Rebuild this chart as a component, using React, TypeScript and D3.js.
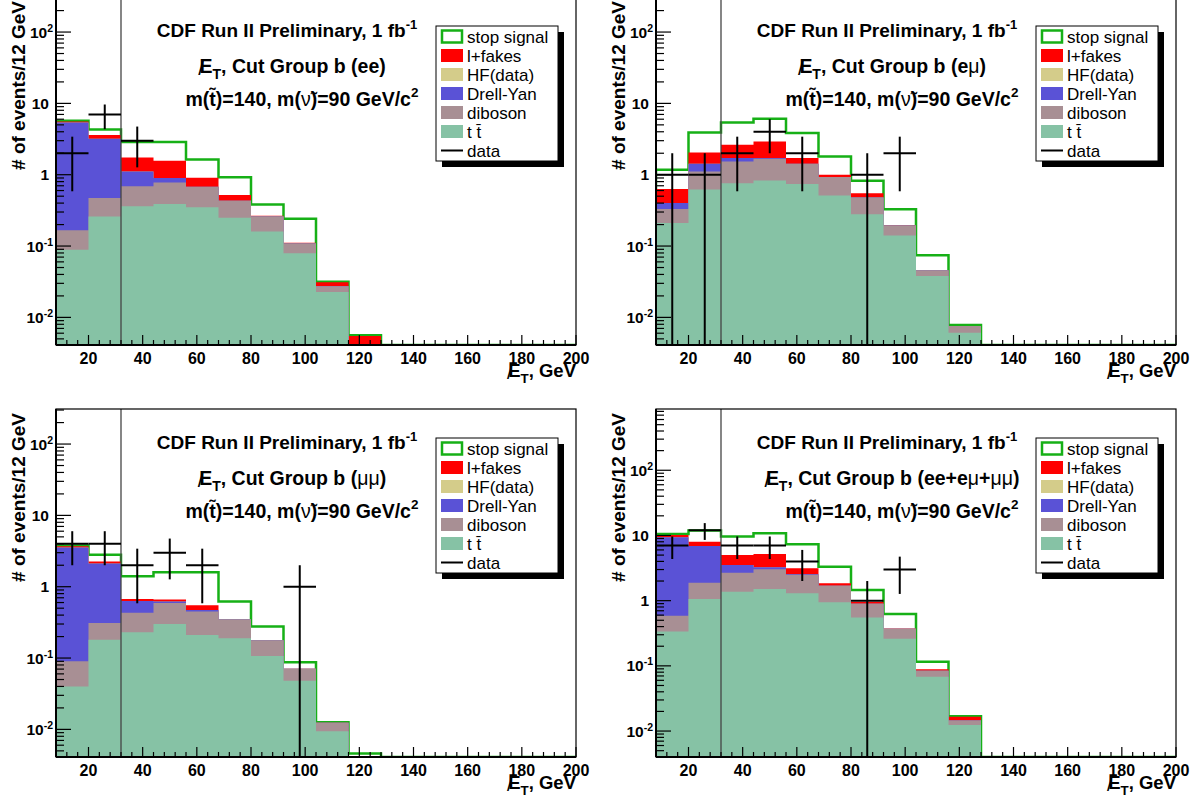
import React from "react";
import * as d3 from "d3";

const W = 1201;
const H = 803;

// histogram binning (GeV) and axis labels
const binEdges = [8, 20, 32, 44, 56, 68, 80, 92, 104, 116, 128, 140, 152, 164, 176, 188, 200];
const xTickLabels = [20, 40, 60, 80, 100, 120, 140, 160, 180, 200];
const cutValue = 32;
const legendLabels = ["stop signal", "l+fakes", "HF(data)", "Drell-Yan", "diboson", "t t\u0304", "data"];
const channelNames = ["ee", "e\u03bc", "\u03bc\u03bc", "ee+e\u03bc+\u03bc\u03bc"];

// ee
const eeTtbar = [0.089, 0.26, 0.36, 0.39, 0.35, 0.25, 0.16, 0.079, 0.0226, 0, 0, 0, 0, 0, 0, 0];
const eeDiboson = [0.077, 0.21, 0.33, 0.39, 0.32, 0.18, 0.1, 0.03, 0.0048, 0, 0, 0, 0, 0, 0, 0];
const eeDrellYan = [5.22, 2.72, 0.42, 0.12, 0.01, 0, 0, 0, 0, 0, 0, 0, 0, 0, 0, 0];
const eeHF = [0, 0, 0, 0, 0, 0, 0, 0, 0, 0, 0, 0, 0, 0, 0, 0];
const eeFakes = [0.2, 0.4, 0.64, 0.67, 0.23, 0.09, 0.006, 0.002, 0.0038, 0.0055, 0, 0, 0, 0, 0, 0];
const eeStop = [0.1, 0.7, 1.12, 1.3, 0.72, 0.4, 0.115, 0.13, 0.0003, 0.0001, 0, 0, 0, 0, 0, 0];
const eeData = [2, 7, 3, 0, 0, 0, 0, 0, 0, 0, 0, 0, 0, 0, 0, 0];

// e mu
const emTtbar = [0.21, 0.62, 0.76, 0.83, 0.74, 0.51, 0.28, 0.14, 0.038, 0.0061, 0, 0, 0, 0, 0, 0];
const emDiboson = [0.12, 0.49, 0.77, 0.84, 0.67, 0.42, 0.2, 0.054, 0.0076, 0.0015, 0, 0, 0, 0, 0, 0];
const emDrellYan = [0.07, 0.32, 0.18, 0.05, 0.02, 0, 0, 0, 0, 0, 0, 0, 0, 0, 0, 0];
const emHF = [0, 0, 0, 0, 0, 0, 0, 0, 0, 0, 0, 0, 0, 0, 0, 0];
const emFakes = [0.23, 0.62, 0.92, 1.2, 0.28, 0.07, 0.07, 0.003, 0, 0, 0, 0, 0, 0, 0, 0];
const emStop = [0.54, 1.85, 2.76, 3.15, 2.12, 0.8, 0.27, 0.13, 0.029, 0.0002, 0, 0, 0, 0, 0, 0];
const emData = [1, 1, 2, 4, 2, 0, 1, 2, 0, 0, 0, 0, 0, 0, 0, 0];

// mu mu
const mmTtbar = [0.04, 0.18, 0.23, 0.3, 0.21, 0.19, 0.107, 0.048, 0.0094, 0, 0, 0, 0, 0, 0, 0];
const mmDiboson = [0.05, 0.13, 0.2, 0.29, 0.24, 0.16, 0.07, 0.023, 0.003, 0, 0, 0, 0, 0, 0, 0];
const mmDrellYan = [3.45, 1.8, 0.2, 0.03, 0.02, 0, 0, 0, 0, 0, 0, 0, 0, 0, 0, 0];
const mmHF = [0, 0, 0, 0, 0, 0, 0, 0, 0, 0, 0, 0, 0, 0, 0, 0];
const mmFakes = [0.15, 0.15, 0.04, 0.04, 0.08, 0, 0, 0, 0, 0, 0, 0, 0, 0, 0, 0];
const mmStop = [0.1, 0.54, 0.73, 0.94, 1.05, 0.27, 0.1, 0.016, 0.0002, 0.0046, 0, 0, 0, 0, 0, 0];
const mmData = [4, 4, 2, 3, 2, 0, 0, 1, 0, 0, 0, 0, 0, 0, 0, 0];

// all channels
const allTtbar = [0.335, 1.06, 1.37, 1.51, 1.3, 0.945, 0.55, 0.26, 0.068, 0.0124, 0, 0, 0, 0, 0, 0];
const allDiboson = [0.25, 0.83, 1.32, 1.52, 1.18, 0.75, 0.35, 0.11, 0.016, 0.0021, 0, 0, 0, 0, 0, 0];
const allDrellYan = [8.8, 5.0, 0.84, 0.22, 0.05, 0, 0, 0, 0, 0, 0, 0, 0, 0, 0, 0];
const allHF = [0, 0, 0, 0, 0, 0, 0, 0, 0, 0, 0, 0, 0, 0, 0, 0];
const allFakes = [0.8, 1.13, 1.49, 1.95, 0.61, 0.15, 0.06, 0.005, 0.0045, 0.0021, 0, 0, 0, 0, 0, 0];
const allStop = [0.3, 3.9, 4.6, 5.6, 4.2, 1.47, 0.5, 0.25, 0.027, 0.0003, 0, 0, 0, 0, 0, 0];
const allData = [7, 12, 7, 7, 4, 0, 1, 3, 0, 0, 0, 0, 0, 0, 0, 0];

// stack colours, bottom -> top
const colTtbar = "#86c2a5";
const colDiboson = "#a88f94";
const colDrellYan = "#5a52d6";
const colHF = "#d4cc8a";
const colFakes = "#ff0000";
const colStop = "#16b016";
const legendColors = [colStop, colFakes, colHF, colDrellYan, colDiboson, colTtbar, "#000"];

const FONT = "'Liberation Sans', Arial, Helvetica, sans-serif";

const panels = [
  { key: "ee", ox: 0, ft: -3, fb: 345, yDomain: [0.0041, 310], channel: channelNames[0],
    layers: [eeTtbar, eeDiboson, eeDrellYan, eeHF, eeFakes], stop: eeStop, data: eeData },
  { key: "em", ox: 600, ft: -3, fb: 345, yDomain: [0.0041, 310], channel: channelNames[1],
    layers: [emTtbar, emDiboson, emDrellYan, emHF, emFakes], stop: emStop, data: emData },
  { key: "mm", ox: 0, ft: 409, fb: 757, yDomain: [0.0041, 310], channel: channelNames[2],
    layers: [mmTtbar, mmDiboson, mmDrellYan, mmHF, mmFakes], stop: mmStop, data: mmData },
  { key: "all", ox: 600, ft: 409, fb: 757, yDomain: [0.004, 870], channel: channelNames[3],
    layers: [allTtbar, allDiboson, allDrellYan, allHF, allFakes], stop: allStop, data: allData },
];
const layerColors = [colTtbar, colDiboson, colDrellYan, colHF, colFakes];

// missing-ET symbol: E crossed by a slash, subscript T
const met = (fs: number, rest: string) => [
  <tspan key="e">E</tspan>,
  <tspan key="s" dx={-0.74 * fs} dy={0.12 * fs} fontSize={fs * 1.1} fontWeight="normal">/</tspan>,
  <tspan key="t" dx={0.43 * fs} dy={0.2 * fs} fontSize={fs * 0.72}>T</tspan>,
  <tspan key="r" dy={-0.32 * fs}>{rest}</tspan>,
];

const Panel = ({ p }: { p: (typeof panels)[number] }) => {
  const fl = p.ox + 56;
  const fr = p.ox + 576;
  const { ft, fb } = p;
  const [ymin, ymax] = p.yDomain;

  const x = d3.scaleLinear().domain([binEdges[0], binEdges[binEdges.length - 1]]).range([fl, fr]);
  const y = d3.scaleLog().domain([ymin, ymax]).range([fb, ft]).clamp(true);
  const yv = (v: number) => y(Math.max(v, ymin));

  const nb = binEdges.length - 1;
  const all = [...p.layers, p.stop];
  // cumulative stack levels
  const cum = all.map((_, k) => d3.range(nb).map((i) => d3.sum(all.slice(0, k + 1), (l) => l[i])));
  const pts = (vals: number[]) => [
    ...vals.map((v, i) => ({ x: binEdges[i], v })),
    { x: binEdges[nb], v: vals[nb - 1] },
  ];

  const area = d3
    .area<{ x: number; v: number }>()
    .x((d) => x(d.x))
    .y0(fb)
    .y1((d) => yv(d.v))
    .curve(d3.curveStepAfter);
  const line = d3
    .line<{ x: number; v: number }>()
    .x((d) => x(d.x))
    .y((d) => yv(d.v))
    .curve(d3.curveStepAfter);

  const clipId = `clip-${p.key}`;
  const stopLevel = cum[cum.length - 1];

  // ticks
  const xMinor = d3.range(binEdges[0], binEdges[nb] + 0.1, 4);
  const yTicks: { v: number; major: boolean }[] = [];
  for (let e = -3; e <= 3; e++) {
    for (let m = 1; m <= 9; m++) {
      const v = m * Math.pow(10, e);
      if (v >= ymin && v <= ymax) yTicks.push({ v, major: m === 1 });
    }
  }
  const yLabels = [
    { v: 0.01, base: "10", sup: "-2" },
    { v: 0.1, base: "10", sup: "-1" },
    { v: 1, base: "1", sup: "" },
    { v: 10, base: "10", sup: "" },
    { v: 100, base: "10", sup: "2" },
  ];

  const cx = p.ox;
  const legY = (i: number) => ft + 39.5 + i * 19;

  return (
    <g>
      <defs>
        <clipPath id={clipId}>
          <rect x={fl} y={ft} width={fr - fl} height={fb - ft} />
        </clipPath>
      </defs>
      <g clipPath={`url(#${clipId})`}>
        <path d={area(pts(stopLevel)) || ""} fill="#fff" />
        <path d={line([{ x: binEdges[0], v: ymin }, ...pts(stopLevel)]) || ""} fill="none" stroke={colStop} strokeWidth={2.5} />
        {cum
          .slice(0, cum.length - 1)
          .map((lv, k) => ({ lv, k }))
          .reverse()
          .map(({ lv, k }) => (
            <path key={k} d={area(pts(lv)) || ""} fill={layerColors[k]} />
          ))}
        <line x1={x(cutValue)} x2={x(cutValue)} y1={ft} y2={fb} stroke="#444" strokeWidth={1.3} />
        {p.data.map((v, i) =>
          v > 0 ? (
            <g key={i} stroke="#000" strokeWidth={2}>
              <line x1={x(binEdges[i])} x2={x(binEdges[i + 1])} y1={yv(v)} y2={yv(v)} />
              <line
                x1={x((binEdges[i] + binEdges[i + 1]) / 2)}
                x2={x((binEdges[i] + binEdges[i + 1]) / 2)}
                y1={yv(v + Math.sqrt(v))}
                y2={yv(v - Math.sqrt(v))}
              />
            </g>
          ) : null
        )}
      </g>

      {/* frame and ticks */}
      <rect x={fl} y={ft} width={fr - fl} height={fb - ft} fill="none" stroke="#000" strokeWidth={1.2} />
      <line x1={fl} x2={fr} y1={fb} y2={fb} stroke="#000" strokeWidth={2} />
      <line x1={fl} x2={fl} y1={ft} y2={fb} stroke="#000" strokeWidth={2} />
      {xMinor.map((v) => (
        <line key={v} x1={x(v)} x2={x(v)} y1={fb} y2={fb - (v % 20 === 0 ? 10 : 5)} stroke="#000" strokeWidth={1.2} />
      ))}
      {yTicks.map((t) => (
        <line key={t.v} x1={fl} x2={fl + (t.major ? 15 : 8)} y1={y(t.v)} y2={y(t.v)} stroke="#000" strokeWidth={1.2} />
      ))}
      {xTickLabels.map((v) => (
        <text key={v} x={x(v)} y={fb + 19} textAnchor="middle" fontFamily={FONT} fontWeight="bold" fontSize={16}>
          {v}
        </text>
      ))}
      {yLabels.map((l) => (
        <text key={l.v} x={cx + (l.sup ? 53 : 49)} y={y(l.v) + 5.5} textAnchor="end" fontFamily={FONT} fontWeight="bold" fontSize={15.5}>
          {l.base}
          {l.sup ? (
            <tspan dy={-6} fontSize={10.5}>
              {l.sup}
            </tspan>
          ) : null}
        </text>
      ))}
      <text x={fr} y={fb + 32} textAnchor="end" fontFamily={FONT} fontWeight="bold" fontSize={18.5}>
        {met(18.5, ", GeV")}
      </text>
      <text
        transform={`translate(${cx + 25},${ft + 4}) rotate(-90)`}
        textAnchor="end"
        fontFamily={FONT}
        fontWeight="bold"
        fontSize={19}
      >
        # of events/12 GeV
      </text>

      {/* titles */}
      <text x={cx + 287} y={ft + 39.5} textAnchor="middle" fontFamily={FONT} fontWeight="bold" fontSize={19}>
        CDF Run II Preliminary, 1 fb
        <tspan dy={-8} fontSize={13}>-1</tspan>
      </text>
      <text x={cx + 292} y={ft + 75.5} textAnchor="middle" fontFamily={FONT} fontWeight="bold" fontSize={19.5}>
        {met(19.5, ", Cut Group b (")}
        {p.channel.split("").map((c, i) => (
          <tspan key={i} fontWeight={c === "\u03bc" ? "normal" : "bold"}>
            {c}
          </tspan>
        ))}
        <tspan>)</tspan>
      </text>
      <text x={cx + 302} y={ft + 108.5} textAnchor="middle" fontFamily={FONT} fontWeight="bold" fontSize={19.5}>
        {"m(t\u0303)=140, m("}
        <tspan fontWeight="normal">{"\u03bd\u0303"}</tspan>
        <tspan>)=90 GeV/c</tspan>
        <tspan dy={-9} fontSize={13.5}>2</tspan>
      </text>

      {/* legend */}
      <rect x={cx + 442} y={ft + 35} width={122} height={135} fill="#000" />
      <rect x={cx + 436} y={ft + 29} width={122} height={135} fill="#fff" stroke="#000" strokeWidth={1} />
      {legendLabels.map((lab, i) => (
        <g key={lab}>
          {i === 0 ? (
            <rect x={cx + 442} y={legY(i) - 6} width={20} height={12} fill="#fff" stroke={colStop} strokeWidth={2.5} />
          ) : i === legendLabels.length - 1 ? (
            <line x1={cx + 441} x2={cx + 463} y1={legY(i)} y2={legY(i)} stroke="#000" strokeWidth={2} />
          ) : (
            <rect x={cx + 441} y={legY(i) - 6.5} width={22} height={13} fill={legendColors[i]} />
          )}
          <text x={cx + 467} y={legY(i) + 6} fontFamily={FONT} fontSize={17}>
            {lab}
          </text>
        </g>
      ))}
    </g>
  );
};

export default function App() {
  return (
    <div style={{ position: "absolute", left: 0, top: 0, width: W, height: H, background: "#fff" }}>
      <svg width={W} height={H} viewBox={`0 0 ${W} ${H}`} style={{ display: "block" }}>
        <rect x={0} y={0} width={W} height={H} fill="#fff" />
        {panels.map((p) => (
          <Panel key={p.key} p={p} />
        ))}
      </svg>
    </div>
  );
}
